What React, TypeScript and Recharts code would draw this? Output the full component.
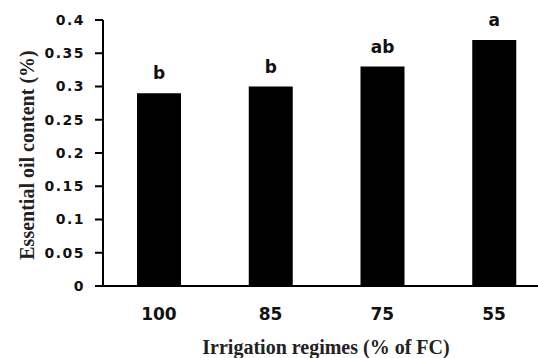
import { Bar, BarChart, LabelList, XAxis, YAxis } from "recharts";

const regimes = ["100", "85", "75", "55"];
const oilContent = [0.29, 0.3, 0.33, 0.37];
const groups = ["b", "b", "ab", "a"];
const yTicks = [0, 0.05, 0.1, 0.15, 0.2, 0.25, 0.3, 0.35, 0.4];

const data = regimes.map((regime, i) => ({
  regime,
  oil: oilContent[i],
  group: groups[i],
}));

const sansBold = { fontFamily: "DejaVu Sans", fontWeight: 700, fill: "#111" };
const serifBold = { fontFamily: "Liberation Serif", fontWeight: 700, fill: "#222" };

function YTitle() {
  return (
    <text
      x={27}
      y={155}
      transform="rotate(-90 27 155)"
      textAnchor="middle"
      dominantBaseline="central"
      fontSize={20}
      {...serifBold}
    >
      Essential oil content (%)
    </text>
  );
}

function XTitle() {
  return (
    <text x={326} y={347} textAnchor="middle" dominantBaseline="central" fontSize={20} {...serifBold}>
      Irrigation regimes (% of FC)
    </text>
  );
}

export default function App() {
  return (
    <div
      style={{
        position: "fixed",
        top: 0,
        left: 0,
        width: 538,
        height: 358,
        overflow: "hidden",
        background: "#fff",
      }}
    >
      <BarChart
        width={552}
        height={358}
        data={data}
        margin={{ top: 20, right: 2, bottom: 42, left: 0 }}
        barSize={44}
      >
        <XAxis
          dataKey="regime"
          height={30}
          axisLine={{ stroke: "#000", strokeWidth: 2 }}
          tickLine={false}
          tickSize={0}
          tickMargin={22}
          tick={{ fontSize: 17, ...sansBold }}
          label={<XTitle />}
        />
        <YAxis
          width={103}
          domain={[0, 0.4]}
          ticks={yTicks}
          interval={0}
          axisLine={{ stroke: "#000", strokeWidth: 2 }}
          tickLine={{ stroke: "#000", strokeWidth: 2 }}
          tickSize={8}
          tickMargin={10}
          tick={{ fontSize: 14, letterSpacing: 1.5, ...sansBold }}
          label={<YTitle />}
        />
        <Bar dataKey="oil" fill="#000" isAnimationActive={false}>
          <LabelList dataKey="group" position="top" offset={14} fontSize={17} {...sansBold} />
        </Bar>
      </BarChart>
    </div>
  );
}
